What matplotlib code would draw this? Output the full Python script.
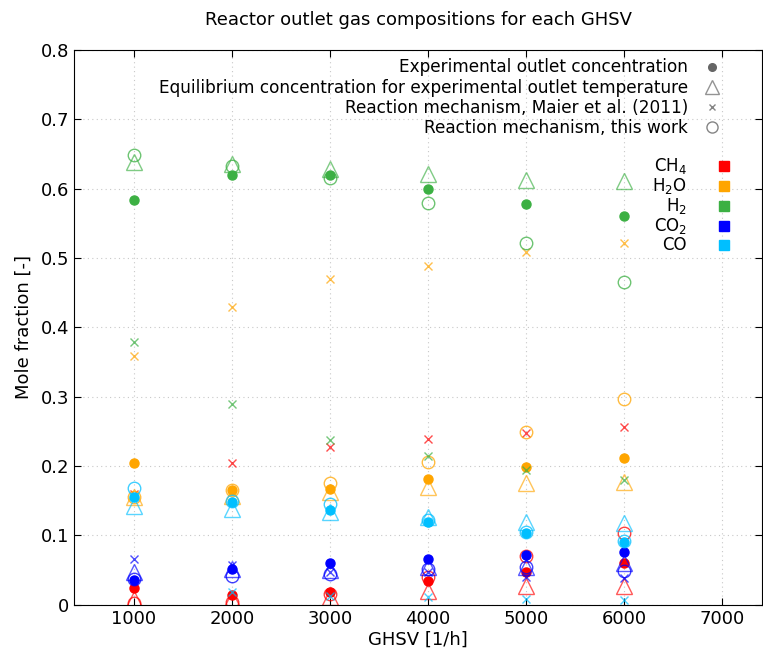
import matplotlib
matplotlib.use("Agg")
from matplotlib import pyplot as plt
from matplotlib.lines import Line2D
import numpy as np

ghsv = [1000, 2000, 3000, 4000, 5000, 6000]
species = ["CH$_4$", "H$_2$O", "H$_2$", "CO$_2$", "CO"]
colors = ["#ff0000", "#ffa500", "#3cb043", "#0000ff", "#00bfff"]

# experimental outlet concentration (filled circles)
exp_ch4 = [0.024, 0.014, 0.018, 0.034, 0.048, 0.061]
exp_h2o = [0.205, 0.166, 0.167, 0.182, 0.198, 0.211]
exp_h2 = [0.583, 0.620, 0.620, 0.599, 0.578, 0.561]
exp_co2 = [0.036, 0.051, 0.060, 0.066, 0.072, 0.076]
exp_co = [0.155, 0.148, 0.137, 0.120, 0.104, 0.090]

# equilibrium concentration (triangles)
eq_ch4 = [0.008, 0.008, 0.012, 0.020, 0.027, 0.027]
eq_h2o = [0.155, 0.157, 0.163, 0.170, 0.175, 0.177]
eq_h2 = [0.638, 0.635, 0.628, 0.621, 0.613, 0.611]
eq_co2 = [0.048, 0.052, 0.050, 0.055, 0.055, 0.060]
eq_co = [0.143, 0.138, 0.134, 0.127, 0.120, 0.118]

# Maier et al. (2011) (crosses)
maier_ch4 = [0.160, 0.204, 0.228, 0.239, 0.247, 0.257]
maier_h2o = [0.358, 0.430, 0.470, 0.489, 0.508, 0.522]
maier_h2 = [0.379, 0.290, 0.238, 0.215, 0.195, 0.180]
maier_co2 = [0.066, 0.057, 0.048, 0.048, 0.040, 0.038]
maier_co = [0.155, 0.019, 0.013, 0.011, 0.008, 0.007]

# this work (open circles)
tw_ch4 = [0.002, 0.004, 0.015, 0.040, 0.071, 0.104]
tw_h2o = [0.155, 0.165, 0.176, 0.206, 0.249, 0.296]
tw_h2 = [0.648, 0.633, 0.616, 0.579, 0.522, 0.465]
tw_co2 = [0.037, 0.042, 0.045, 0.052, 0.055, 0.049]
tw_co = [0.168, 0.150, 0.145, 0.122, 0.105, 0.092]

exp_all = [exp_ch4, exp_h2o, exp_h2, exp_co2, exp_co]
eq_all = [eq_ch4, eq_h2o, eq_h2, eq_co2, eq_co]
maier_all = [maier_ch4, maier_h2o, maier_h2, maier_co2, maier_co]
tw_all = [tw_ch4, tw_h2o, tw_h2, tw_co2, tw_co]

fig = plt.figure(figsize=(7.63, 6.56), dpi=100)
ax = fig.add_axes([0.097, 0.078, 0.902, 0.846])

for i in range(len(species)):
    c = colors[i]
    ax.plot(ghsv, eq_all[i], "^", ms=11, mfc="none", mec=c, mew=1.0, alpha=0.65)
    ax.plot(ghsv, tw_all[i], "o", ms=9, mfc="none", mec=c, mew=1.0, alpha=0.75)
    ax.plot(ghsv, maier_all[i], "x", ms=6, color=c, mew=1.0, alpha=0.7)
    ax.plot(ghsv, exp_all[i], "o", ms=6.5, color=c)

ax.set_xlim(390, 7410)
ax.set_ylim(0, 0.8)
ax.set_xticks([1000, 2000, 3000, 4000, 5000, 6000, 7000])
ax.set_yticks([0, 0.1, 0.2, 0.3, 0.4, 0.5, 0.6, 0.7, 0.8])
ax.set_yticklabels(["0", "0.1", "0.2", "0.3", "0.4", "0.5", "0.6", "0.7", "0.8"])
ax.tick_params(direction="in", top=True, right=True, labelsize=13, length=5)
ax.grid(True, linestyle=(0, (1, 3)), color="#c8c8c8", linewidth=0.8)
ax.set_axisbelow(True)
ax.set_xlabel("GHSV [1/h]", fontsize=13, labelpad=2)
ax.set_ylabel("Mole fraction [-]", fontsize=13, labelpad=6)
ax.set_title("Reactor outlet gas compositions for each GHSV", fontsize=13, pad=18)

gray = "#666666"
h1 = [
    Line2D([], [], ls="none", marker="o", ms=5.5, color=gray),
    Line2D([], [], ls="none", marker="^", ms=9.5, mfc="none", mec=gray, alpha=0.7),
    Line2D([], [], ls="none", marker="x", ms=5, color=gray, alpha=0.8),
    Line2D([], [], ls="none", marker="o", ms=8, mfc="none", mec=gray, alpha=0.8),
]
l1 = ["Experimental outlet concentration",
      "Equilibrium concentration for experimental outlet temperature",
      "Reaction mechanism, Maier et al. (2011)",
      "Reaction mechanism, this work"]
leg1 = ax.legend(h1, l1, loc="upper right", bbox_to_anchor=(0.961, 1.012),
                 frameon=False, markerfirst=False, fontsize=12.2,
                 labelspacing=0.13, handletextpad=0.9, handlelength=1.0)
ax.add_artist(leg1)

h2 = [Line2D([], [], ls="none", marker="s", ms=6.5, color=c) for c in colors]
ax.legend(h2, species, loc="upper right", bbox_to_anchor=(0.978, 0.835),
          frameon=False, markerfirst=False, fontsize=12,
          labelspacing=0.0, handletextpad=1.7, handlelength=1.0)

plt.savefig("out.png", dpi=100)
